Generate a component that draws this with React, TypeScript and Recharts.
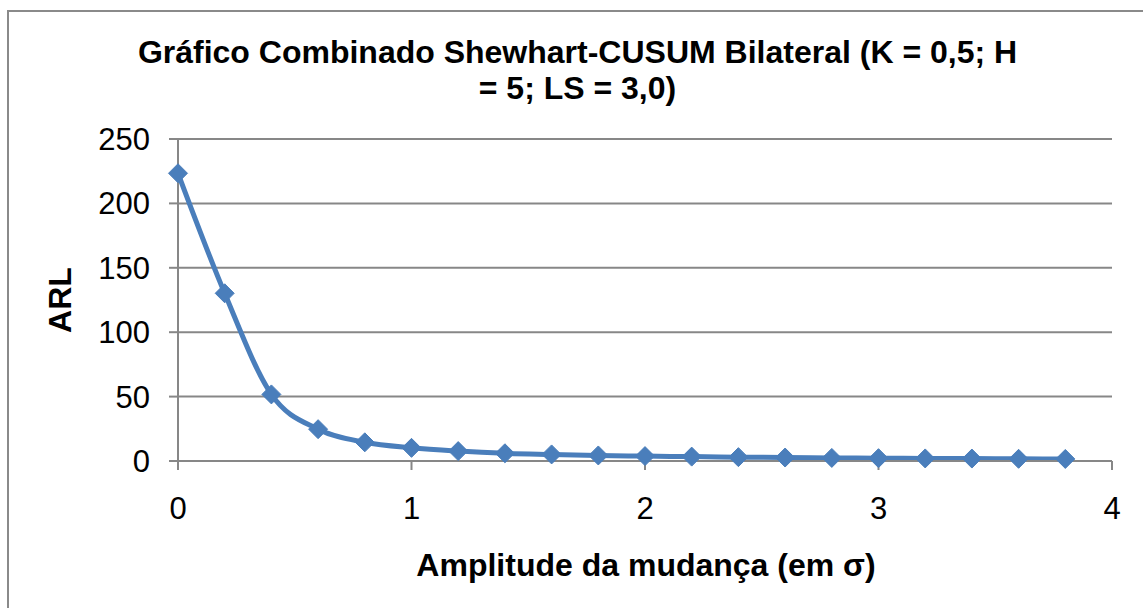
import React from 'react';
import { LineChart, Line, XAxis, YAxis, CartesianGrid, Label } from 'recharts';

const shifts = [0, 0.2, 0.4, 0.6, 0.8, 1.0, 1.2, 1.4, 1.6, 1.8, 2.0, 2.2, 2.4, 2.6, 2.8, 3.0, 3.2, 3.4, 3.6, 3.8];
const arl = [223.4, 130.2, 51.7, 24.7, 14.5, 10.2, 7.7, 6.0, 5.1, 4.3, 3.8, 3.4, 3.0, 2.7, 2.4, 2.2, 2.0, 1.9, 1.7, 1.6];
const xTicks = [0, 1, 2, 3, 4];
const yTicks = [0, 50, 100, 150, 200, 250];
const titleLine1 = 'Gráfico Combinado Shewhart-CUSUM Bilateral (K = 0,5; H';
const titleLine2 = '= 5; LS = 3,0)';
const xTitle = 'Amplitude da mudança (em σ)';
const yTitle = 'ARL';

const data = shifts.map((s, i) => ({ x: s, y: arl[i] }));

const FONT = '"Liberation Sans", Arial, sans-serif';
const GRID = '#878787';
const BLUE = '#4a7ebb';

const Diamond = (props: any) => {
  const { cx, cy } = props;
  if (cx == null || cy == null) return null;
  const r = 9.5;
  return (
    <polygon
      points={`${cx},${cy - r} ${cx + r},${cy} ${cx},${cy + r} ${cx - r},${cy}`}
      fill={BLUE}
      stroke={BLUE}
      strokeWidth={1}
    />
  );
};

const XTitle = (props: any) => {
  const vb = props.viewBox || {};
  const cx = vb.x + vb.width / 2 + 1;
  return (
    <text x={cx} y={576} textAnchor="middle" fontFamily={FONT} fontWeight="bold" fontSize={32} fill="#000">
      {xTitle}
    </text>
  );
};

const YTitle = (props: any) => {
  const vb = props.viewBox || {};
  const cy = vb.y + vb.height / 2;
  const x = 60;
  return (
    <text
      x={x}
      y={cy}
      transform={`rotate(-90, ${x}, ${cy})`}
      textAnchor="middle"
      dominantBaseline="central"
      fontFamily={FONT}
      fontWeight="bold"
      fontSize={32}
      fill="#000"
    >
      {yTitle}
    </text>
  );
};

export default function App() {
  return (
    <div style={{ position: 'fixed', left: 0, top: 0, width: 1143, height: 608, overflow: 'hidden', background: '#fff' }}>
      <div
        style={{
          position: 'absolute',
          left: 7,
          top: 10,
          width: 1200,
          height: 700,
          border: '2px solid #8a8a8a',
          boxSizing: 'border-box',
        }}
      />
      <div
        style={{
          position: 'absolute',
          left: 0,
          top: 34,
          width: 1155,
          textAlign: 'center',
          fontFamily: FONT,
          fontWeight: 'bold',
          fontSize: 32,
          lineHeight: '36px',
          color: '#000',
          whiteSpace: 'nowrap',
        }}
      >
        <div>{titleLine1}</div>
        <div>{titleLine2}</div>
      </div>
      <div style={{ position: 'absolute', left: 0, top: 0 }}>
        <LineChart width={1143} height={608} data={data} margin={{ top: 139, right: 31, bottom: 0, left: 0 }}>
          <CartesianGrid vertical={false} stroke={GRID} strokeWidth={2} />
          <XAxis
            dataKey="x"
            type="number"
            domain={[0, 4]}
            ticks={xTicks}
            height={147}
            tickSize={9}
            tickMargin={27}
            axisLine={{ stroke: GRID, strokeWidth: 2 }}
            tickLine={{ stroke: GRID, strokeWidth: 2 }}
            tick={{ fontFamily: FONT, fontSize: 31, fill: '#000' }}
            interval={0}
          >
            <Label content={<XTitle />} />
          </XAxis>
          <YAxis
            type="number"
            domain={[0, 250]}
            ticks={yTicks}
            width={178}
            tickSize={9}
            tickMargin={19}
            axisLine={{ stroke: GRID, strokeWidth: 2 }}
            tickLine={{ stroke: GRID, strokeWidth: 2 }}
            tick={{ fontFamily: FONT, fontSize: 31, fill: '#000' }}
            interval={0}
          >
            <Label content={<YTitle />} />
          </YAxis>
          <Line
            type="monotone"
            dataKey="y"
            stroke={BLUE}
            strokeWidth={5}
            dot={<Diamond />}
            activeDot={false}
            isAnimationActive={false}
          />
        </LineChart>
      </div>
    </div>
  );
}
